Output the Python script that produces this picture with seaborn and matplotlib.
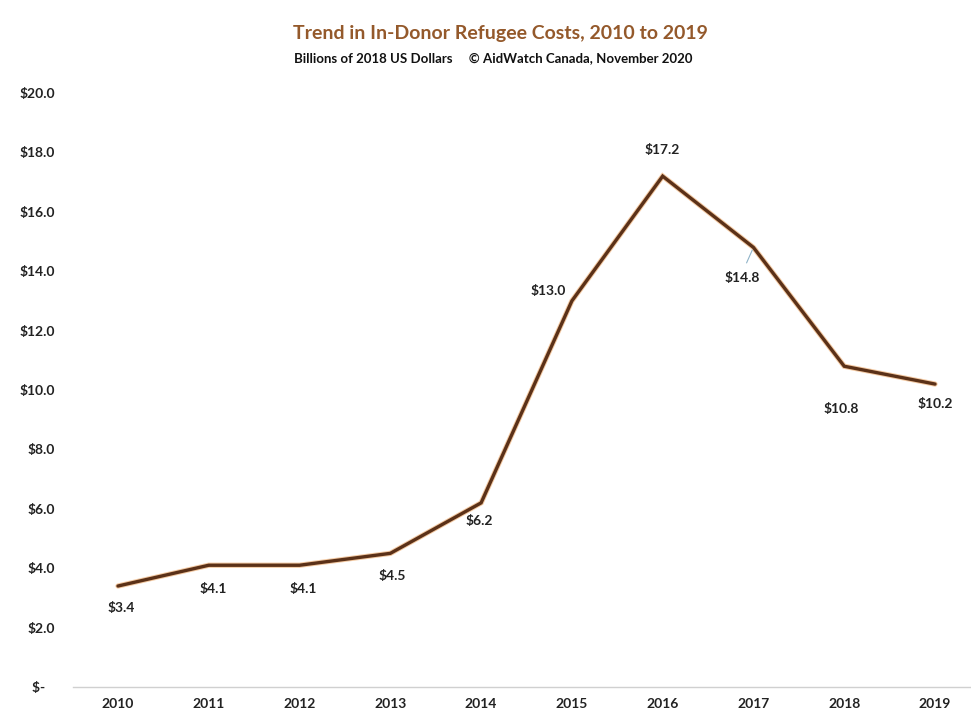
import matplotlib
matplotlib.use("Agg")
import matplotlib.pyplot as plt
import matplotlib.patheffects as pe
import seaborn as sns
import pandas as pd

years = [2010, 2011, 2012, 2013, 2014, 2015, 2016, 2017, 2018, 2019]
costs = [3.4, 4.1, 4.1, 4.5, 6.2, 13.0, 17.2, 14.8, 10.8, 10.2]
y_ticks = [0, 2, 4, 6, 8, 10, 12, 14, 16, 18, 20]
y_tick_labels = ["$-   ", "$2.0", "$4.0", "$6.0", "$8.0", "$10.0", "$12.0",
                 "$14.0", "$16.0", "$18.0", "$20.0"]
# label offsets (pixels) relative to each point
label_offsets = [(3, -22), (4, -24), (4, -24), (2, -23), (-2, -18),
                 (-24, 10), (0, 26), (-11, -31), (-3, -43), (0, -20)]

title = "Trend in In-Donor Refugee Costs, 2010 to 2019"
subtitle = "Billions of 2018 US Dollars     \u00a9 AidWatch Canada, November 2020"

sns.set_theme(style="white")
plt.rcParams["font.family"] = ["Lato", "DejaVu Sans"]

df = pd.DataFrame({"year": years, "cost": costs})

fig = plt.figure(figsize=(9.71, 7.15), dpi=100)
ax = fig.add_axes([73 / 971, 28 / 715, 898 / 971, (687 - 93) / 715])

line_color = "#5b3118"
sns.lineplot(data=df, x="year", y="cost", ax=ax, color=line_color,
             linewidth=2.4, solid_joinstyle="miter",
             path_effects=[pe.Stroke(linewidth=3.8, foreground="#f3c9a2"),
                           pe.Normal()])

unit = 817 / 9
ax.set_xlim(2010 - 45 / unit, 2019 + 36 / unit)
ax.set_ylim(0, 20)

ax.set_yticks(y_ticks)
ax.set_yticklabels(y_tick_labels)
ax.set_xticks(years)
ax.set_xticklabels([str(y) for y in years])
ax.set_xlabel("")
ax.set_ylabel("")

ax.tick_params(axis="y", length=0, pad=13, labelsize=10, labelcolor="#222222")
ax.tick_params(axis="x", length=0, pad=8, labelsize=10, labelcolor="#222222")
for lbl in ax.get_yticklabels() + ax.get_xticklabels():
    lbl.set_fontweight("bold")

for side in ["top", "right", "left"]:
    ax.spines[side].set_visible(False)
ax.spines["bottom"].set_color("#d0d0d0")
ax.spines["bottom"].set_linewidth(1.0)

for (yr, val), (dx, dy) in zip(zip(years, costs), label_offsets):
    ax.annotate(f"${val:.1f}", xy=(yr, val), xytext=(dx, dy),
                textcoords="offset pixels", ha="center", va="center",
                fontsize=10, fontweight="bold", color="#222222",
                annotation_clip=False)

# thin leader line for the 2017 label
ax.annotate("", xy=(2017, 14.8), xytext=(-8, -18), textcoords="offset pixels",
            arrowprops=dict(arrowstyle="-", color="#8fb3c8", lw=0.8))

fig.text(0.515, 1 - 33 / 715, title, ha="center", va="center",
         fontsize=14, fontweight="bold", color="#94592b")
fig.text(0.508, 1 - 58 / 715, subtitle, ha="center", va="center",
         fontsize=9.5, fontweight="bold", color="#111111")

fig.savefig("out.png", dpi=100, facecolor="white")
